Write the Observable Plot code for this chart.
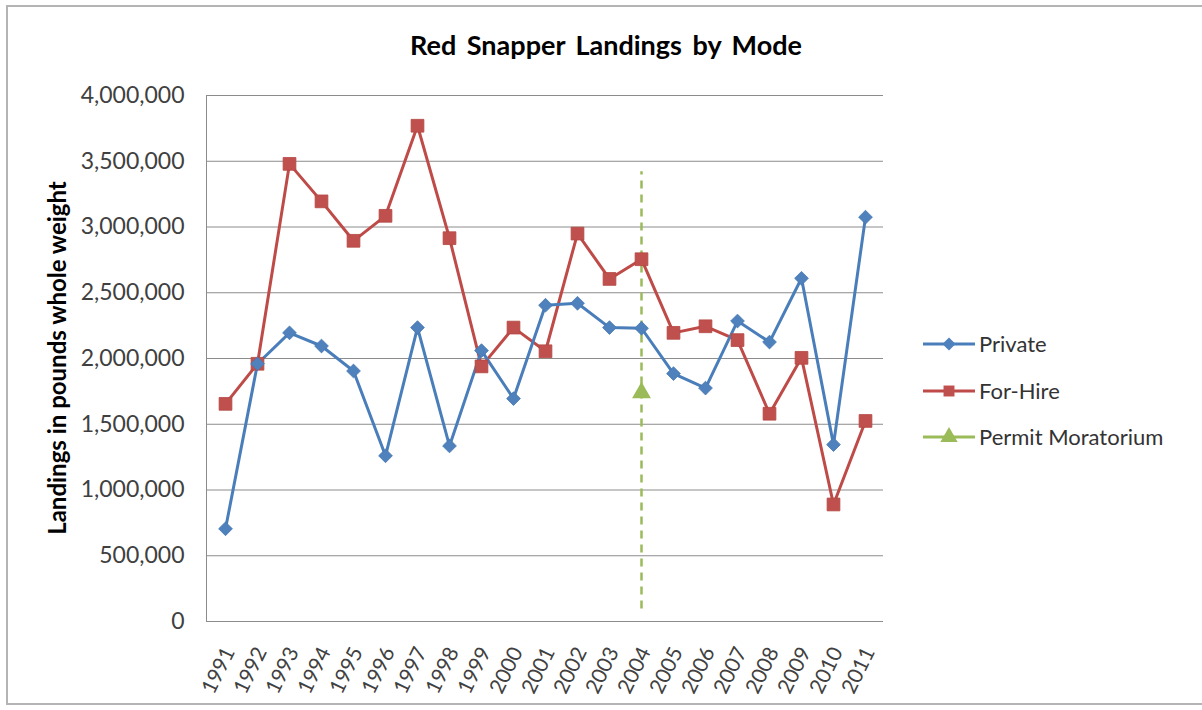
<!DOCTYPE html>
<html>
<head>
<meta charset="utf-8">
<script src="https://cdn.jsdelivr.net/npm/d3@7"></script>
<script src="https://cdn.jsdelivr.net/npm/@observablehq/plot@0.6"></script>
<style>
  html, body { margin: 0; padding: 0; background: #fff; }
  #wrap { position: relative; width: 1202px; height: 710px; overflow: hidden; }
  #border { position: absolute; left: 6px; top: 5px; width: 1210px; height: 700px;
            border: 2px solid #b4b4b4; box-sizing: border-box; pointer-events: none; }
</style>
</head>
<body>
<div id="wrap"><div id="border"></div></div>
<script>
// ---- data ----
const years = ["1991","1992","1993","1994","1995","1996","1997","1998","1999","2000",
               "2001","2002","2003","2004","2005","2006","2007","2008","2009","2010","2011"];
const privateLandings = [705000, 1960000, 2195000, 2095000, 1905000, 1260000, 2235000, 1335000,
                         2060000, 1695000, 2405000, 2420000, 2235000, 2230000, 1885000, 1775000,
                         2285000, 2125000, 2610000, 1345000, 3075000];
const forHireLandings = [1655000, 1960000, 3480000, 3195000, 2895000, 3085000, 3770000, 2915000,
                         1940000, 2235000, 2055000, 2950000, 2605000, 2755000, 2195000, 2245000,
                         2140000, 1580000, 2005000, 890000, 1525000];
const moratoriumYear = "2004";
const moratoriumValue = 1740000;
const moratoriumLineTop = 3420000;
const moratoriumLineBottom = 95000;
const yTicks = [0, 500000, 1000000, 1500000, 2000000, 2500000, 3000000, 3500000, 4000000];
const seriesNames = ["Private", "For-Hire", "Permit Moratorium"];
const titleText = "Red Snapper Landings by Mode";
const yTitleText = "Landings in pounds whole weight";

// ---- styles ----
const blueLine = "#4A7EBB", blueMark = "#4F81BD";
const redLine = "#BE4B48", redMark = "#C0504D";
const green = "#9BBB59";
const font = "Lato, 'Open Sans', sans-serif";

const privateRows = years.map((y, i) => ({year: y, value: privateLandings[i]}));
const forHireRows = years.map((y, i) => ({year: y, value: forHireLandings[i]}));
const moratoriumRows = [{year: moratoriumYear, value: moratoriumValue}];

const chart = Plot.plot({
  width: 1202,
  height: 710,
  marginLeft: 206,
  marginRight: 319,
  marginTop: 95,
  marginBottom: 89,
  style: {fontFamily: font, background: "transparent", color: "#404040", overflow: "visible"},
  x: {type: "point", domain: years, padding: 0.5, axis: null},
  y: {domain: [0, 4000000], axis: null},
  marks: [
    Plot.gridY(yTicks, {stroke: "#8c8c8c", strokeOpacity: 1, strokeWidth: 1}),
    Plot.frame({anchor: "left", stroke: "#8c8c8c", strokeWidth: 1}),
    Plot.ruleY([0], {stroke: "#8c8c8c", strokeWidth: 1.2}),
    Plot.axisY(yTicks, {tickSize: 0, tickPadding: 22, tickFormat: d3.format(","), fontSize: 23,
                        fill: "#404040", label: null}),
    Plot.text(years, {x: d => d, frameAnchor: "bottom", rotate: -64, dx: -7, dy: 49,
                      fontSize: 21, textAnchor: "middle", lineAnchor: "middle", fill: "#404040"}),
    Plot.ruleX([moratoriumYear], {x: d => d, y1: moratoriumLineBottom, y2: moratoriumLineTop,
                                  stroke: green, strokeWidth: 2.5, strokeDasharray: "8,6"}),
    Plot.line(forHireRows, {x: "year", y: "value", stroke: redLine, strokeWidth: 3}),
    Plot.line(privateRows, {x: "year", y: "value", stroke: blueLine, strokeWidth: 3}),
    Plot.dot(forHireRows, {x: "year", y: "value", symbol: "square", r: 7.2, fill: redMark,
                           stroke: "#B24743", strokeWidth: 0.8}),
    Plot.dot(privateRows, {x: "year", y: "value", symbol: "diamond2", r: 6.2, fill: blueMark,
                           stroke: "#4677B0", strokeWidth: 0.8}),
    Plot.dot(moratoriumRows, {x: "year", y: "value", symbol: "triangle", r: 7, fill: green})
  ]
});

document.getElementById("wrap").prepend(chart);

const svg = d3.select(chart);
// title
svg.append("text")
  .attr("x", 606).attr("y", 55)
  .attr("text-anchor", "middle")
  .attr("font-family", font).attr("font-weight", "bold").attr("font-size", 27)
  .attr("word-spacing", 4)
  .attr("fill", "#000")
  .text(titleText);
// y axis title
svg.append("text")
  .attr("transform", "translate(66,358) rotate(-90)")
  .attr("text-anchor", "middle")
  .attr("font-family", font).attr("font-weight", "bold").attr("font-size", 24)
  .attr("fill", "#000")
  .text(yTitleText);

// legend
const legendColors = [blueLine, redLine, green];
const legendMarks = [blueMark, redMark, green];
const legendSymbols = [d3.symbolDiamond2, d3.symbolSquare, d3.symbolTriangle];
const legendSizes = [110, 120, 130];
const legendY = [344, 391, 437];
const lg = svg.append("g");
seriesNames.forEach((name, i) => {
  const g = lg.append("g").attr("transform", `translate(0,${legendY[i]})`);
  g.append("line").attr("x1", 923).attr("x2", 975).attr("y1", 0).attr("y2", 0)
    .attr("stroke", legendColors[i]).attr("stroke-width", 3);
  g.append("path").attr("d", d3.symbol(legendSymbols[i], legendSizes[i])())
    .attr("transform", "translate(949,0)").attr("fill", legendMarks[i]);
  g.append("text").attr("x", 979).attr("y", 8)
    .attr("text-anchor", "start")
    .attr("font-family", font).attr("font-size", 22).attr("fill", "#333")
    .text(name);
});
</script>
</body>
</html>
